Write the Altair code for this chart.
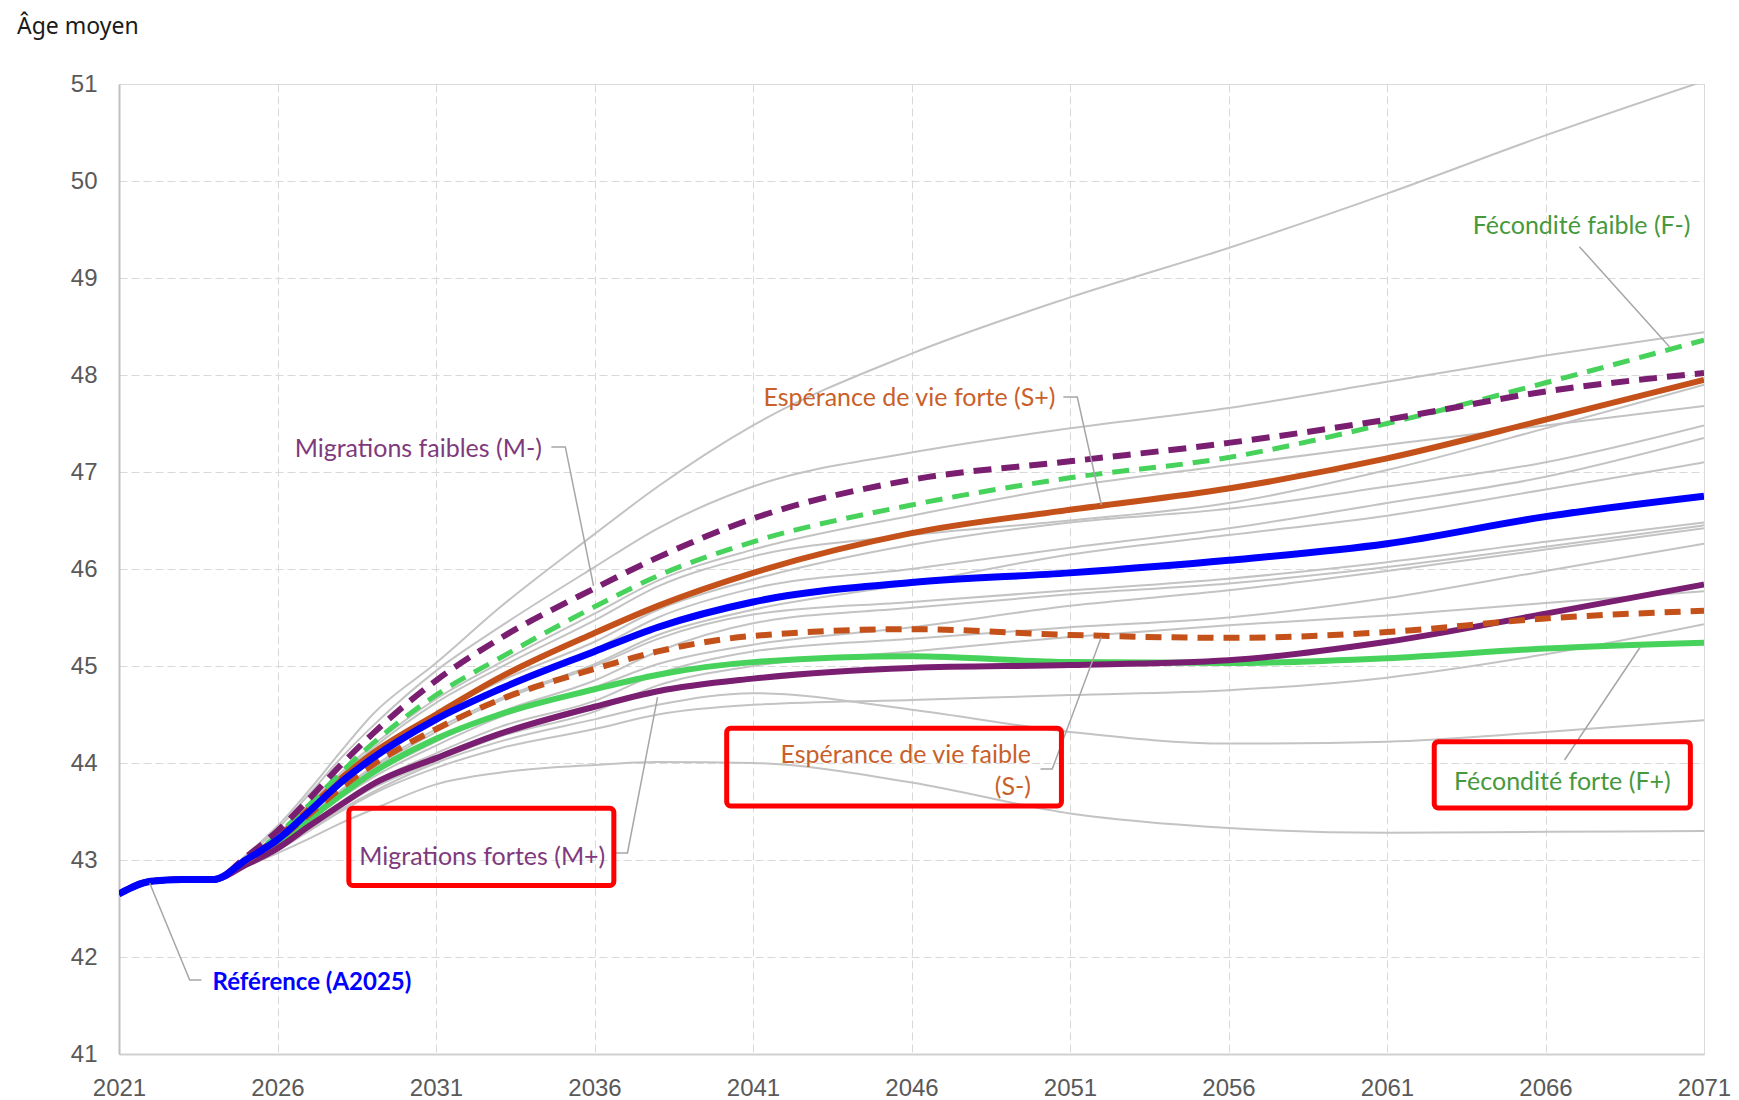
import altair as alt
import pandas as pd

# ---------------- data ----------------
YEARS = [2021, 2022, 2023, 2024, 2025, 2026, 2027, 2028, 2029, 2031, 2033,
         2036, 2038, 2041, 2046, 2051, 2056, 2061, 2066, 2071]
START = [42.65, 42.78, 42.80, 42.80]

REF_A2025 = START + [43.00, 43.21, 43.50, 43.80, 44.05, 44.45, 44.76, 45.15, 45.40, 45.66, 45.86, 45.96, 46.09, 46.26, 46.54, 46.75]
MIG_FAIBLE = START + [43.03, 43.30, 43.63, 43.98, 44.30, 44.85, 45.28, 45.80, 46.12, 46.52, 46.92, 47.11, 47.30, 47.54, 47.83, 48.02]
FEC_FAIBLE = START + [43.00, 43.26, 43.57, 43.90, 44.20, 44.70, 45.08, 45.61, 45.93, 46.28, 46.66, 46.94, 47.15, 47.50, 47.92, 48.36]
ESP_FORTE = START + [43.00, 43.23, 43.53, 43.84, 44.10, 44.50, 44.88, 45.34, 45.62, 45.96, 46.37, 46.61, 46.83, 47.14, 47.54, 47.95]
ESP_FAIBLE = START + [42.99, 43.20, 43.47, 43.74, 43.98, 44.35, 44.65, 44.97, 45.15, 45.31, 45.38, 45.32, 45.29, 45.35, 45.49, 45.57]
FEC_FORTE = START + [42.98, 43.17, 43.42, 43.67, 43.90, 44.25, 44.50, 44.76, 44.91, 45.04, 45.10, 45.04, 45.03, 45.08, 45.18, 45.24]
MIG_FORTE = START + [42.95, 43.12, 43.35, 43.57, 43.78, 44.05, 44.30, 44.58, 44.74, 44.87, 44.98, 45.01, 45.06, 45.25, 45.54, 45.84]

# other (grey) scenarios
GREY = {
    "g01": START + [43.05, 43.35, 43.72, 44.12, 44.50, 45.03, 45.60, 46.36, 46.85, 47.48, 48.22, 48.80, 49.31, 49.87, 50.47, 51.03],
    "g02": START + [43.04, 43.32, 43.68, 44.05, 44.38, 44.95, 45.40, 46.02, 46.42, 46.85, 47.20, 47.45, 47.66, 47.93, 48.20, 48.44],
    "g03": START + [43.02, 43.27, 43.58, 43.90, 44.18, 44.66, 45.03, 45.54, 45.88, 46.20, 46.55, 46.85, 47.07, 47.28, 47.48, 47.68],
    "g04": START + [43.02, 43.26, 43.56, 43.87, 44.15, 44.62, 44.98, 45.47, 45.82, 46.13, 46.35, 46.50, 46.68, 47.02, 47.45, 47.90],
    "g05": START + [43.00, 43.23, 43.52, 43.80, 44.06, 44.50, 44.84, 45.25, 45.58, 45.89, 46.25, 46.48, 46.62, 46.85, 47.10, 47.48],
    "g06": START + [43.00, 43.22, 43.50, 43.78, 44.03, 44.45, 44.78, 45.17, 45.50, 45.80, 46.00, 46.22, 46.42, 46.68, 46.95, 47.35],
    "g07": START + [42.99, 43.20, 43.46, 43.72, 43.96, 44.35, 44.66, 45.02, 45.32, 45.58, 45.85, 46.15, 46.35, 46.55, 46.82, 47.10],
    "g08": START + [42.99, 43.19, 43.45, 43.70, 43.94, 44.32, 44.64, 45.00, 45.28, 45.53, 45.66, 45.78, 45.90, 46.07, 46.28, 46.48],
    "g09": START + [42.98, 43.18, 43.42, 43.66, 43.88, 44.22, 44.52, 44.85, 45.15, 45.44, 45.60, 45.74, 45.85, 46.02, 46.23, 46.45],
    "g10": START + [42.98, 43.17, 43.40, 43.64, 43.85, 44.18, 44.47, 44.78, 45.02, 45.22, 45.40, 45.62, 45.78, 45.98, 46.20, 46.42],
    "g11": START + [42.97, 43.15, 43.37, 43.60, 43.80, 44.10, 44.37, 44.64, 44.92, 45.15, 45.28, 45.40, 45.50, 45.70, 45.98, 46.26],
    "g12": START + [42.96, 43.13, 43.34, 43.55, 43.74, 44.02, 44.27, 44.53, 44.80, 45.00, 45.15, 45.30, 45.42, 45.52, 45.65, 45.77],
    "g13": START + [42.95, 43.10, 43.30, 43.50, 43.68, 43.95, 44.15, 44.35, 44.50, 44.60, 44.65, 44.70, 44.75, 44.88, 45.12, 45.43],
    "g14": START + [42.95, 43.12, 43.32, 43.52, 43.70, 44.00, 44.22, 44.45, 44.60, 44.72, 44.55, 44.32, 44.20, 44.22, 44.32, 44.44],
    "g15": START + [42.93, 43.07, 43.22, 43.38, 43.52, 43.78, 43.90, 43.98, 44.01, 44.00, 43.80, 43.48, 43.33, 43.28, 43.29, 43.30],
}

TITLE = "Âge moyen"
X_TICKS = list(range(2021, 2072, 5))
Y_TICKS = list(range(41, 52))

LABELS = ["Fécondité faible (F-)", "Espérance de vie forte (S+)", "Migrations faibles (M-)",
          "Migrations fortes (M+)", "Espérance de vie faible", "(S-)", "Fécondité forte (F+)"]
REF_LABEL = "Référence (A2025)"

# ---------------- styling / positions ----------------
GREEN = "#47d35b"
PURPLE = "#7a1e71"
ORANGE = "#c5511a"
BLUE = "#0000ff"
GREEN_TXT = "#46993c"
ORANGE_TXT = "#c9602a"
PURPLE_TXT = "#7f3a7d"
GREY_LINE = "#c3c3c3"
LEADER = "#a6a6a6"

LABEL_FONT = "Lato"
AXIS_FONT = "Liberation Sans"

xs = alt.Scale(domain=[2021, 2071], nice=False, zero=False)
ys = alt.Scale(domain=[41, 51], nice=False, zero=False)
x_axis = alt.Axis(values=X_TICKS, format="d", title=None, grid=True, gridDash=[8, 4],
                  gridColor="#d9d9d9", gridWidth=1, ticks=False, labelPadding=22,
                  domainColor="#d0d0d0", domainWidth=2, labelFont=AXIS_FONT,
                  labelFontSize=24, labelColor="#595959", labelFlush=False)
y_axis = alt.Axis(values=Y_TICKS, title=None, grid=True, gridDash=[8, 4],
                  gridColor="#d9d9d9", gridWidth=1, ticks=False, labelPadding=22,
                  domainColor="#c0c0c0", domainWidth=2, labelFont=AXIS_FONT,
                  labelFontSize=24, labelColor="#595959")

X = alt.X("year:Q", scale=xs, axis=x_axis)
Y = alt.Y("value:Q", scale=ys, axis=y_axis)


def series_df(name, values):
    return pd.DataFrame({"year": YEARS, "value": values, "series": name})


grey_df = pd.concat([series_df(k, v) for k, v in GREY.items()], ignore_index=True)

grey_layer = alt.Chart(grey_df).mark_line(
    color=GREY_LINE, strokeWidth=2, interpolate="monotone", clip=True
).encode(x=X, y=Y, detail="series:N")


def colored(name, values, color, width, dash=None):
    kw = dict(color=color, strokeWidth=width, interpolate="monotone", clip=True)
    if dash:
        kw["strokeDash"] = dash
    return alt.Chart(series_df(name, values)).mark_line(**kw).encode(x=X, y=Y)


layers = [
    grey_layer,
    colored("F+", FEC_FORTE, GREEN, 6),
    colored("M+", MIG_FORTE, PURPLE, 6),
    colored("S-", ESP_FAIBLE, ORANGE, 6, [16, 10]),
    colored("S+", ESP_FORTE, ORANGE, 6),
    colored("F-", FEC_FAIBLE, GREEN, 5, [17, 10]),
    colored("M-", MIG_FAIBLE, PURPLE, 6, [18, 10]),
    colored("A2025", REF_A2025, BLUE, 7),
]

# leader lines (year, value positions of annotation connectors)
leaders = pd.DataFrame({
    "id": ["F-", "F-", "S+", "S+", "S+", "M-", "M-", "M-", "M+", "M+", "M+",
           "S-", "S-", "S-", "F+", "F+", "R", "R", "R"],
    "o": [0, 1, 0, 1, 2, 0, 1, 2, 0, 1, 2, 0, 1, 2, 0, 1, 0, 1, 2],
    "year": [2067.07, 2069.91, 2050.79, 2051.23, 2051.99, 2034.64, 2035.08, 2035.97,
             2036.66, 2037.04, 2037.99, 2050.07, 2050.44, 2051.99, 2066.60, 2068.99,
             2021.97, 2023.23, 2023.60],
    "value": [49.323, 48.292, 47.773, 47.773, 46.660, 47.258, 47.258, 45.825,
              43.072, 43.072, 44.680, 43.938, 43.938, 45.299, 44.031, 45.196,
              42.760, 41.763, 41.763],
})
leader_layer = alt.Chart(leaders).mark_line(color=LEADER, strokeWidth=1.5).encode(
    x=X, y=Y, detail="id:N", order="o:Q")

# red boxes
boxes = pd.DataFrame({
    "x1": [2028.25, 2040.17, 2062.49],
    "x2": [2036.61, 2050.73, 2070.57],
    "y1": [43.533, 44.358, 44.220],
    "y2": [42.737, 43.557, 43.536],
})
box_layer = alt.Chart(boxes).mark_rect(
    fill=None, fillOpacity=0, stroke="#ff0000", strokeWidth=5, cornerRadius=4
).encode(x=alt.X("x1:Q", scale=xs, axis=x_axis), x2="x2:Q",
         y=alt.Y("y1:Q", scale=ys, axis=y_axis), y2="y2:Q")

# annotation texts (right aligned)
ann = pd.DataFrame({
    "text": LABELS,
    "year": [2070.57, 2050.54, 2034.34, 2036.34, 2049.77, 2049.77, 2069.95],
    "value": [49.536, 47.763, 47.237, 43.034, 44.082, 43.753, 43.799],
    "c": [GREEN_TXT, ORANGE_TXT, PURPLE_TXT, PURPLE_TXT, ORANGE_TXT, ORANGE_TXT, GREEN_TXT],
})
ann_layer = alt.Chart(ann).mark_text(
    align="right", baseline="middle", font=LABEL_FONT, fontSize=25
).encode(x=X, y=Y, text="text:N", color=alt.Color("c:N", scale=None))

ref_ann = pd.DataFrame({"text": [REF_LABEL], "year": [2023.95], "value": [41.732]})
ref_layer = alt.Chart(ref_ann).mark_text(
    align="left", baseline="middle", font=LABEL_FONT, fontSize=24, fontWeight="bold",
    color=BLUE
).encode(x=X, y=Y, text="text:N")

title_layer = alt.Chart(pd.DataFrame({"t": [TITLE]})).mark_text(
    align="left", baseline="middle", font="Noto Sans", fontSize=23, color="#1a1a1a"
).encode(text="t:N", x=alt.value(-102), y=alt.value(-57))

chart = alt.layer(
    *layers, leader_layer, box_layer, ann_layer, ref_layer, title_layer
).properties(
    width=1585, height=970,
    autosize=alt.AutoSizeParams(type="none"),
    padding={"left": 111, "top": 76, "right": 27, "bottom": 46},
).configure_view(stroke=None).configure(background="white")

chart.save("out.html", embed_options={"renderer": "svg", "actions": False})
